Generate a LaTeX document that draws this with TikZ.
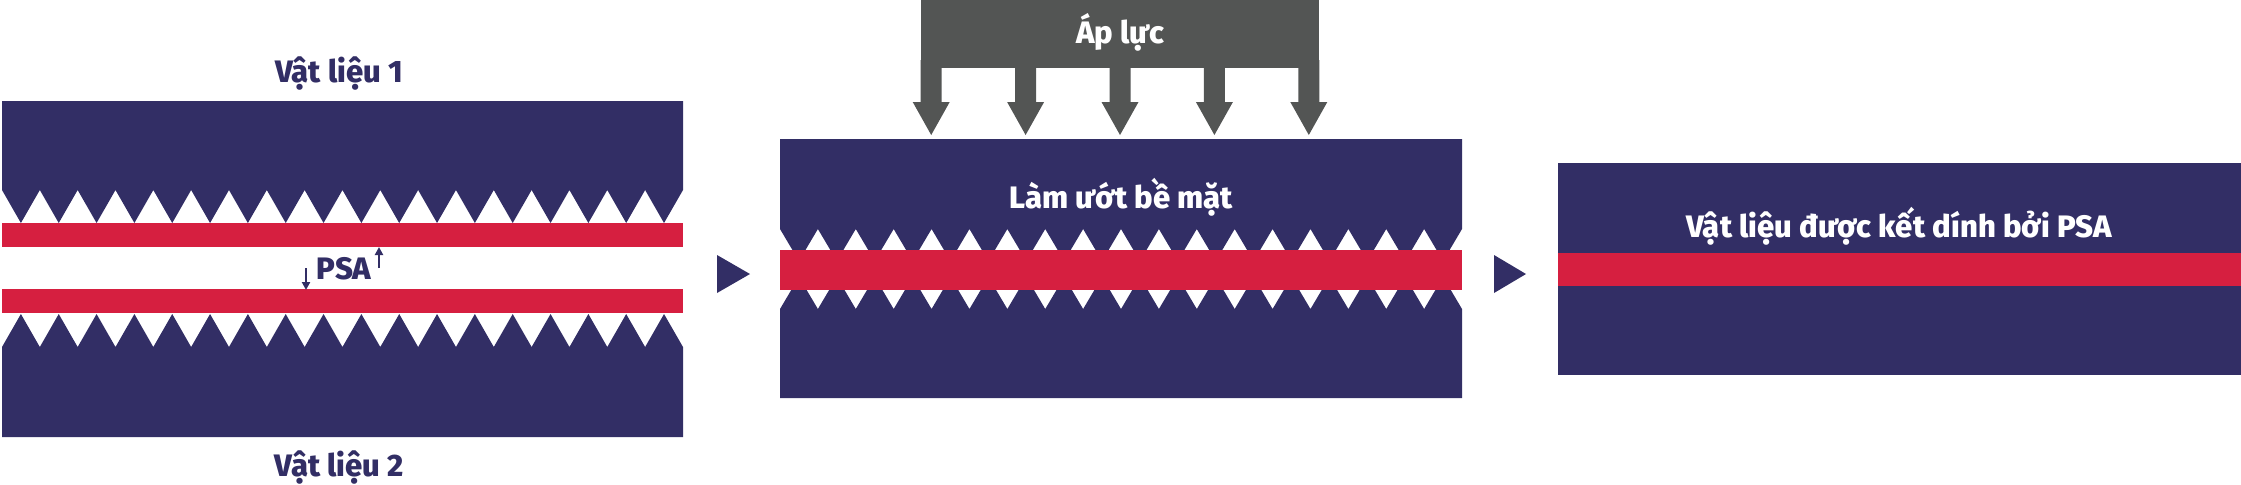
\documentclass[tikz,border=0pt]{standalone}
\usepackage{fontspec}
\usepackage{graphicx}
\IfFontExistsTF{Fira Sans ExtraBold}
  {\setmainfont{Fira Sans}[BoldFont={Fira Sans ExtraBold}]}
  {\setmainfont{Fira Sans}}
\usetikzlibrary{arrows.meta}
\definecolor{navy}{RGB}{50,46,101}
\definecolor{psared}{RGB}{214,31,64}
\definecolor{pgray}{RGB}{83,85,84}
\begin{document}
\begin{tikzpicture}[x=0.5pt,y=-0.5pt,
  lbl/.style={font=\fontsize{15.5}{18}\selectfont\bfseries, inner sep=0pt, anchor=base},
  navylbl/.style={lbl, text=navy},
  whitelbl/.style={lbl, text=white},
  psaarrow/.style={draw=navy, line width=1.1pt, -{Triangle[length=4pt,width=4pt]}},
  flowtri/.style={fill=navy}]
\useasboundingbox (0,0) rectangle (2241,484);
% ---------- left panel ----------
\fill[navy] (2,101) -- (683,101) -- (683,190)
  \foreach \i in {17,...,0} { -- ({2+(\i+0.5)*37.83},223) -- ({2+\i*37.83},190) } -- cycle;
\fill[psared] (2,223) rectangle (683,247);
\fill[psared] (2,289) rectangle (683,313);
\fill[navy] (2,437) -- (683,437) -- (683,347)
  \foreach \i in {17,...,0} { -- ({2+(\i+0.5)*37.83},314) -- ({2+\i*37.83},347) } -- cycle;
\node[navylbl] (m1) at (339,82) {Vật liệu 1};
\node[navylbl] (m2) at (339,476) {Vật liệu 2};
\node[navylbl] (psa) at (344,279) {PSA};
\coordinate (d1) at (306,268); \coordinate (d2) at (306,290);
\coordinate (u1) at (379,268); \coordinate (u2) at (379,247);
\draw[psaarrow] (d1) -- (d2);
\draw[psaarrow] (u1) -- (u2);
% flow arrow 1
\fill[flowtri] (717,255) -- (750,274) -- (717,293) -- cycle;
% ---------- middle panel ----------
\fill[pgray] (920.7,0) rectangle (1319.3,68);
\foreach \c in {931.2,1025.6,1120,1214.4,1308.8} {
  \fill[pgray] ({\c-10.5},60) -- ({\c+10.5},60) -- ({\c+10.5},102) -- ({\c+18.5},102)
     -- (\c,135) -- ({\c-18.5},102) -- ({\c-10.5},102) -- cycle;
}
\node[whitelbl] (ap) at (1120,43) {Áp lực};
\fill[navy] (780,139) -- (1462,139) -- (1462,229)
  \foreach \i in {17,...,0} { -- ({780+(\i+0.5)*37.89},261) -- ({780+\i*37.89},229) } -- cycle;
\fill[navy] (780,398) -- (1462,398) -- (1462,309)
  \foreach \i in {17,...,0} { -- ({780+(\i+0.5)*37.89},277) -- ({780+\i*37.89},309) } -- cycle;
\fill[psared] (780,250) rectangle (1462,290);
\node[whitelbl] (wet) at (1121,208) {Làm ướt bề mặt};
% flow arrow 2
\fill[flowtri] (1494,255) -- (1526,274) -- (1494,293) -- cycle;
% ---------- right panel ----------
\fill[navy] (1558,163) rectangle (2241,375);
\fill[psared] (1558,253) rectangle (2241,286);
\node[whitelbl] (res) at (1899,237) {Vật liệu được kết dính bởi PSA};
\end{tikzpicture}
\end{document}
